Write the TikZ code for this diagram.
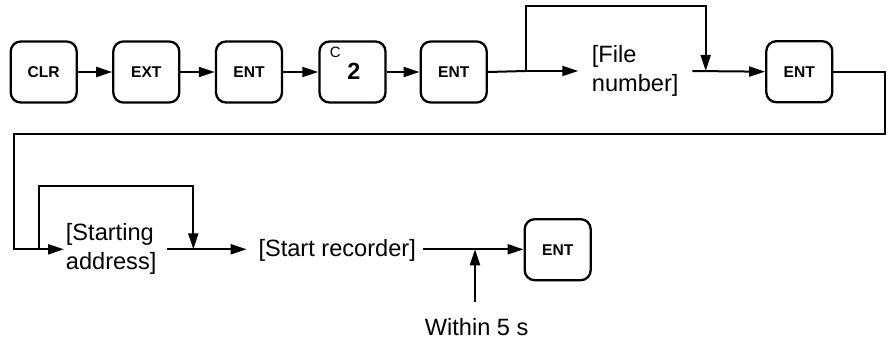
\documentclass[tikz,border=0pt]{standalone}
\usepackage{fontspec}
\setmainfont{Liberation Sans}
\usetikzlibrary{arrows.meta}
\tikzset{
  keybox/.style={draw, line width=2.3pt, rounded corners=10pt, minimum width=66pt, minimum height=61pt, inner sep=0pt, font=\fontsize{15.6}{18}\selectfont\bfseries},
  plain/.style={inner sep=0pt, align=left, font=\fontsize{23.6}{28.3}\selectfont},
  conn/.style={line width=2pt},
  arr/.style={conn, -{Triangle[length=16pt,width=10pt]}}
}
\begin{document}
\begin{tikzpicture}[x=1pt,y=-1pt]
\useasboundingbox (0,0) rectangle (889,342);
% row 1
\node[keybox] (clr) at (43.7,72) {CLR};
\node[keybox] (ext) at (146.3,72) {EXT};
\node[keybox] (ent1) at (249,72) {ENT};
\node[keybox] (k2) at (352.5,72) {};
\node[inner sep=0pt, font=\fontsize{23.4}{24}\selectfont\bfseries] (k2n) at (354,71) {2};
\node[inner sep=0pt, font=\fontsize{15}{16}\selectfont] (k2c) at (335.3,52) {C};
\node[keybox] (ent2) at (453.7,72) {ENT};
\node[plain, anchor=west] (file) at (591.7,71) {[File\\number]};
\node[keybox] (ent3) at (799.3,71.7) {ENT};
\draw[arr] (clr) -- (ext);
\draw[arr] (ext) -- (ent1);
\draw[arr] (ent1) -- (k2);
\draw[arr] (k2) -- (ent2);
\coordinate (b1) at (526,71);
\coordinate (fin) at (578.3,71);
\coordinate (fout) at (692.3,71);
\coordinate (j1) at (705.7,71);
\draw[conn] (ent2.east) -- (b1);
\draw[arr] (b1) -- (fin);
\draw[arr] (b1) -- (526,6) -- (705.7,6) -- (j1);
\draw[arr] (fout) -- (ent3.west);
% return line
\coordinate (sin) at (64,249.3);
\draw[arr] (ent3.east) -- (885,71.7) -- (885,134.3) -- (14,134.3) -- (14,249.3) -- (sin);
% row 2
\node[plain, anchor=west] (sa) at (65.7,249) {[Starting\\address]};
\coordinate (b2) at (39.3,249.3);
\draw[arr] (b2) -- (39.3,185.7) -- (193.3,185.7) -- (193.3,249.3);
\node[plain, anchor=west] (sr) at (258.3,250) {[Start recorder]};
\coordinate (saout) at (167.3,249.3);
\coordinate (srin) at (246.7,249.3);
\draw[arr] (saout) -- (srin);
\node[keybox] (ent4) at (557.7,249.7) {ENT};
\coordinate (srout) at (422.7,249.3);
\draw[arr] (srout) -- (ent4.west |- srout);
\node[plain] (within) at (476.7,326.7) {Within 5 s};
\coordinate (wtop) at (475,301.7);
\draw[arr] (wtop) -- (475,249.3);
\end{tikzpicture}
\end{document}
